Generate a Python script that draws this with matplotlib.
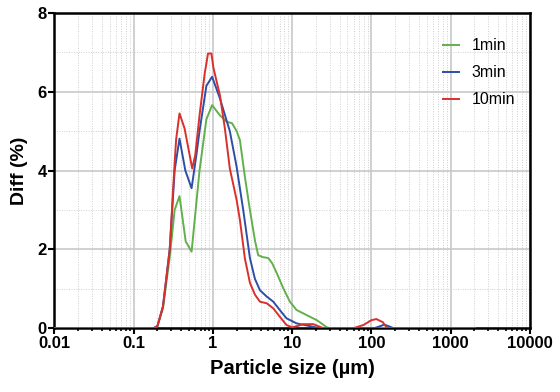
import matplotlib
matplotlib.use("Agg")
import matplotlib.pyplot as plt
from matplotlib.ticker import LogLocator, FixedLocator, NullFormatter, FixedFormatter

plt.rcParams["font.family"] = ["Liberation Sans", "DejaVu Sans"]

# particle size (um) and differential volume (%)
size_1min = [0.01, 0.18, 0.2, 0.235, 0.286, 0.33, 0.38, 0.455, 0.54, 0.68, 0.83,
             0.98, 1.23, 1.49, 1.75, 2.0, 2.2, 2.54, 2.94, 3.4, 3.74, 4.3, 5.0,
             5.6, 6.4, 7.8, 9.4, 11.4, 15.3, 20.6, 27.5, 30, 2000]
diff_1min = [0, 0, 0.05, 0.5, 1.8, 3.0, 3.35, 2.2, 1.94, 4.0, 5.3,
             5.66, 5.4, 5.24, 5.2, 5.0, 4.77, 3.84, 3.0, 2.23, 1.85, 1.8, 1.78,
             1.65, 1.4, 1.0, 0.67, 0.46, 0.33, 0.2, 0.02, 0, 0]

size_3min = [0.01, 0.18, 0.2, 0.235, 0.286, 0.33, 0.38, 0.45, 0.54, 0.62, 0.68,
             0.83, 0.98, 1.23, 1.64, 2.0, 2.42, 2.94, 3.4, 3.94, 4.8, 5.8, 7.0,
             8.5, 11.4, 16.9, 22, 110, 130, 146, 170, 190, 2000]
diff_3min = [0, 0, 0.05, 0.55, 2.0, 4.0, 4.81, 4.0, 3.55, 4.39, 5.0,
             6.15, 6.38, 5.83, 5.0, 4.09, 3.0, 1.78, 1.25, 0.96, 0.8, 0.67, 0.46,
             0.25, 0.12, 0.05, 0, 0, 0.05, 0.09, 0.04, 0, 0]

size_10min = [0.01, 0.18, 0.2, 0.235, 0.286, 0.33, 0.345, 0.38, 0.44, 0.55, 0.6,
              0.68, 0.79, 0.87, 0.96, 1.02, 1.23, 1.42, 1.64, 2.0, 2.2, 2.54,
              2.94, 3.4, 3.94, 4.8, 5.8, 7.0, 8.5, 10, 12, 13.8, 18.6, 24.7,
              60, 80, 100, 116, 140, 158, 2000]
diff_10min = [0, 0, 0.05, 0.55, 2.0, 4.2, 4.8, 5.45, 5.07, 4.05, 4.39,
              5.4, 6.46, 6.97, 6.97, 6.6, 5.91, 5.07, 4.05, 3.25, 2.74, 1.77,
              1.15, 0.85, 0.67, 0.63, 0.5, 0.29, 0.08, 0.02, 0.06, 0.1, 0.1, 0,
              0, 0.08, 0.2, 0.23, 0.15, 0, 0]

series_names = ["1min", "3min", "10min"]
series_colors = ["#62b04c", "#2c4ea6", "#d9302c"]

x_ticks = [0.01, 0.1, 1, 10, 100, 1000, 10000]
x_tick_labels = ["0.01", "0.1", "1", "10", "100", "1000", "10000"]
y_ticks = [0, 2, 4, 6, 8]

fig = plt.figure(figsize=(5.6, 3.92), dpi=100)
ax = fig.add_axes([0.097, 0.163, 0.849, 0.804])

for xs, ys, name, c in zip([size_1min, size_3min, size_10min],
                           [diff_1min, diff_3min, diff_10min],
                           series_names, series_colors):
    ax.plot(xs, ys, color=c, lw=1.4, label=name, zorder=3)

ax.set_xscale("log")
ax.set_xlim(0.01, 10000)
ax.set_ylim(0, 8)
ax.xaxis.set_major_locator(FixedLocator(x_ticks))
ax.xaxis.set_major_formatter(FixedFormatter(x_tick_labels))
ax.xaxis.set_minor_locator(LogLocator(base=10, subs=range(2, 10), numticks=20))
ax.xaxis.set_minor_formatter(NullFormatter())
ax.set_yticks(y_ticks)
ax.set_yticks([1, 3, 5, 7], minor=True)

ax.grid(which="major", color="#c8c8cc", lw=1.2, ls="-", zorder=0)
ax.grid(which="minor", color="#cfcfcf", lw=0.7, ls=(0, (1, 1.5)), zorder=0)

for s in ax.spines.values():
    s.set_linewidth(1.8)
    s.set_color("black")

ax.tick_params(axis="both", which="major", direction="out", length=4, width=1.5,
               labelsize=12, pad=1.5)
ax.tick_params(axis="x", which="minor", direction="out", length=2.5, width=1.2)
ax.tick_params(axis="y", which="minor", length=0)
for lab in ax.get_xticklabels() + ax.get_yticklabels():
    lab.set_fontweight("bold")

ax.set_xlabel("Particle size (µm)", fontsize=14.5, fontweight="bold", labelpad=6)
ax.set_ylabel("Diff (%)", fontsize=14, fontweight="bold", labelpad=7)

ax.legend(loc="upper right", bbox_to_anchor=(1.0, 0.965), frameon=False,
          fontsize=11.5, handlelength=1.0, handletextpad=0.8, labelspacing=0.75)

fig.savefig("out.png", dpi=100)
